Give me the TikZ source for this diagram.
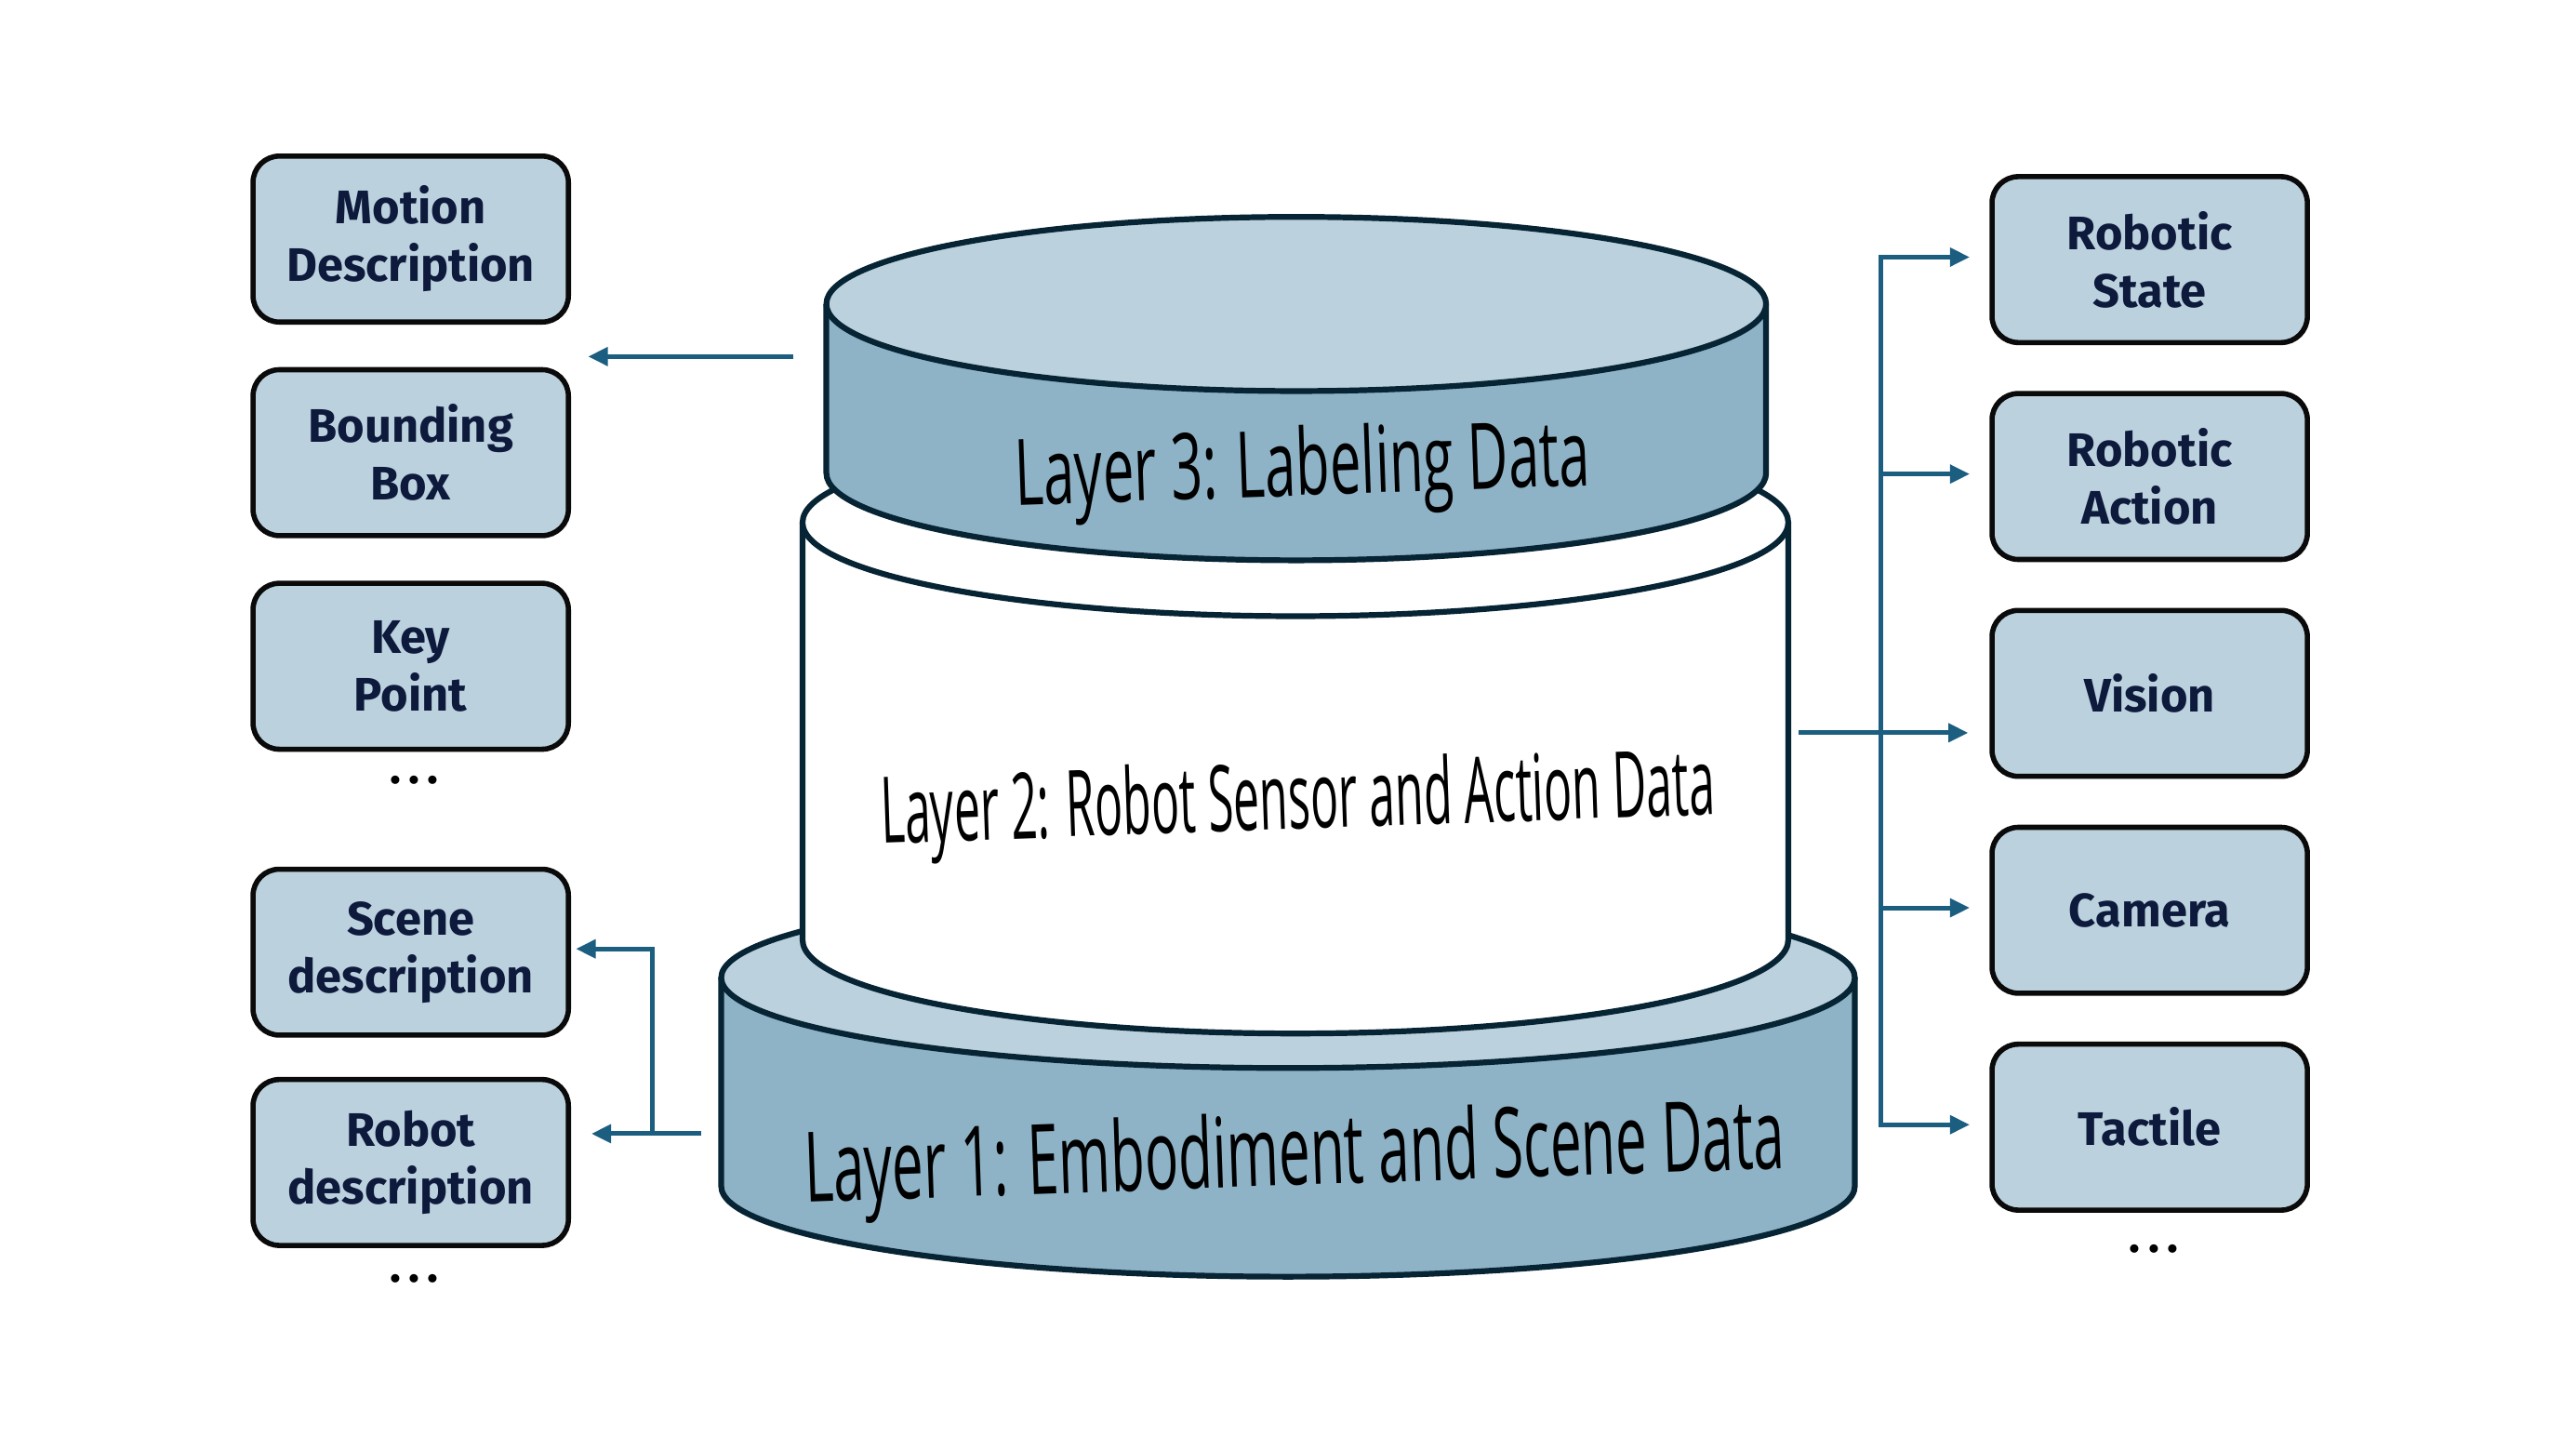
\documentclass[tikz,border=0pt]{standalone}
\usepackage{fontspec}
\setmainfont{Fira Sans}
\newfontfamily\layerfont{Open Sans}
\newfontfamily\boxfont{Fira Sans}
\usetikzlibrary{arrows.meta,calc}
\definecolor{boxfill}{HTML}{BBD1DE}
\definecolor{cyltop}{HTML}{BBD1DE}
\definecolor{cylside}{HTML}{8EB2C6}
\definecolor{cylline}{HTML}{062433}
\definecolor{boxline}{HTML}{0A0A0A}
\definecolor{boxtext}{HTML}{0E1A3C}
\definecolor{arrowc}{HTML}{1B5E80}
\newcommand\cylinderlayer[7]{%
  \fill[#6] (#1-#2,#3) -- (#1-#2,#4) arc[start angle=180,end angle=0,x radius=#2,y radius=#5] -- (#1+#2,#3) -- cycle;
  \draw[cyl] (#1-#2,#3) -- (#1-#2,#4) arc[start angle=180,end angle=0,x radius=#2,y radius=#5] -- (#1+#2,#3);
  \draw[cyl, fill=#7] (#1,#3) ellipse[x radius=#2, y radius=#5];
}
\begin{document}
\begin{tikzpicture}[x=0.02cm,y=-0.02cm,
  item/.style={draw=boxline, line width=1.8pt, fill=boxfill, rounded corners=0.32cm,
    minimum width=3.84cm, minimum height=2.02cm, align=center, text=boxtext,
    font=\boxfont\bfseries\fontsize{16.3}{20}\selectfont, inner sep=0pt},
  arr/.style={draw=arrowc, line width=1.6pt, -{Triangle[length=0.24cm,width=0.22cm]}},
  cyl/.style={draw=cylline, line width=2pt, line join=round},
  dots/.style={font=\boxfont\bfseries\fontsize{16}{16}\selectfont, text=black, inner sep=0pt},
  layertext/.style={font=\layerfont\fontsize{30}{30}\selectfont, text=black, inner sep=0pt}
]
\fill[white] (0,0) rectangle (1568,882);
\useasboundingbox (0,0) rectangle (1568,882);

% cylinders (bottom to top)
\cylinderlayer{784}{345}{595}{722}{55}{cylside}{cyltop}
\cylinderlayer{788.5}{300}{318}{572}{57}{white}{white}
\cylinderlayer{789}{286}{185}{288}{53}{cylside}{cyltop}

\node[layertext, rotate=2] (l3t) at (793,287) {\resizebox{7cm}{0.85cm}{Layer 3: Labeling Data}};
\node[layertext, rotate=2] (l2t) at (790,490) {\resizebox{10.16cm}{0.85cm}{Layer 2: Robot Sensor and Action Data}};
\node[layertext, rotate=2] (l1t) at (788,706) {\resizebox{11.94cm}{0.9cm}{Layer 1: Embodiment and Scene Data}};

% left boxes
\node[item] (md) at (250,145.5) {Motion\\Description};
\node[item] (bb) at (250,275.5) {Bounding\\Box};
\node[item] (kp) at (250,405.5) {Key\\Point};
\node[dots] (dl1) at (252,475) {.\,.\,.};
\node[item] (sd) at (250,579.5) {Scene\\description};
\node[item] (rd) at (250,707.5) {Robot\\description};
\node[dots] (dl2) at (252,778) {.\,.\,.};

% right boxes
\node[item] (rs) at (1308.5,158) {Robotic\\State};
\node[item] (ra) at (1308.5,290) {Robotic\\Action};
\node[item] (vi) at (1308.5,422) {Vision};
\node[item] (ca) at (1308.5,554) {Camera};
\node[item] (ta) at (1308.5,686) {Tactile};
\node[dots] (dr) at (1311,760) {.\,.\,.};

% left connectors
\coordinate (s3) at (483,217);
\coordinate (e3) at (358,217);
\draw[arr] (s3) -- (e3);
\coordinate (s1) at (427,690);
\coordinate (e1) at (360,690);
\coordinate (j1) at (397,690);
\draw[arr] (s1) -- (e1);
\draw[arr] (j1) |- ($(sd.east)+(3,-2)$);

% right connectors
\coordinate (s2) at (1095,446);
\coordinate (e2) at (1198,446);
\coordinate (tr) at (1145,446);
\draw[arr] (s2) -- (e2);
\foreach \n in {rs,ra,ca,ta} \draw[arr] (tr) |- ($(\n.west)+(-12,-1.5)$);
\end{tikzpicture}
\end{document}
